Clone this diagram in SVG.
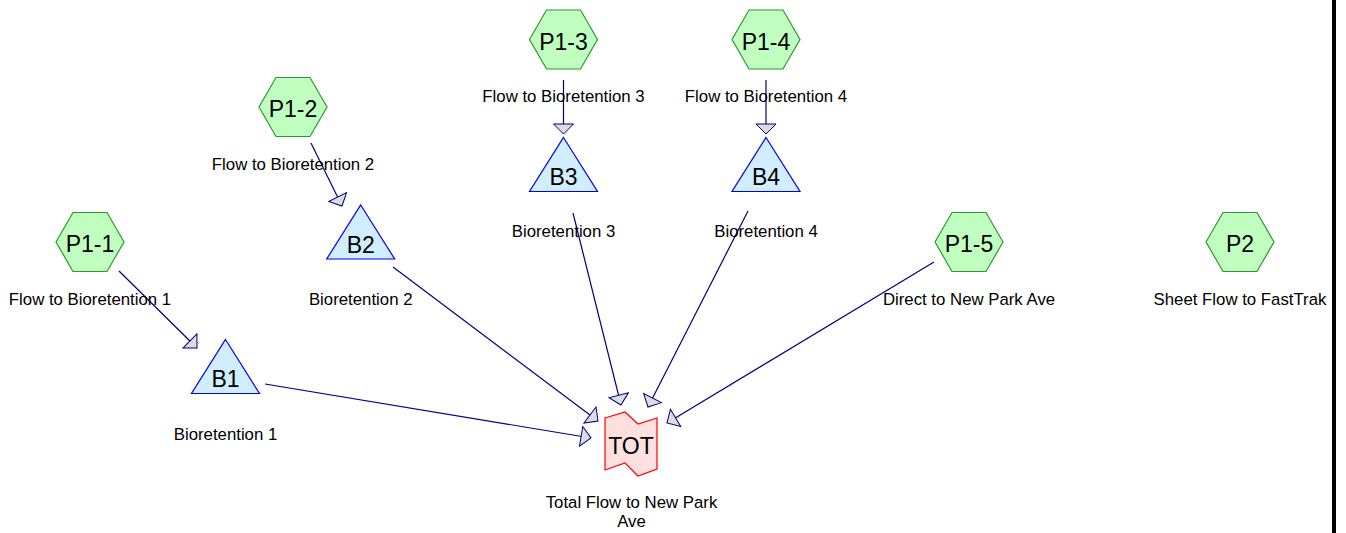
<svg xmlns="http://www.w3.org/2000/svg" xmlns:xlink="http://www.w3.org/1999/xlink" width="1346" height="533" viewBox="0 0 1346 533">
<style>
.hex{fill:#c0ffc0;stroke:#2a9a2a;stroke-width:1.2}
.tri{fill:#d0eeff;stroke:#0000ee;stroke-width:1.2}
.tot{fill:#ffe0e0;stroke:#ff0000;stroke-width:1.2}
.id{font-family:"Liberation Sans",Arial,sans-serif;font-size:23px;fill:#000;text-anchor:middle}
.lbl{font-family:"Liberation Sans",Arial,sans-serif;font-size:16.8px;fill:#000;text-anchor:middle}
.con line{stroke:#000080;stroke-width:1.2;fill:none;marker-end:url(#ah)}
</style>
<defs>
<marker id="ah" viewBox="-1 -11 12 22" markerWidth="12" markerHeight="22" refX="10" refY="0" orient="auto" markerUnits="userSpaceOnUse">
<path d="M0,-10 L10,0 L0,10 Z" fill="#dddddd" stroke="#000080" stroke-width="1"/>
</marker>
<polygon id="hexShape" points="-34,0 -17,-29.5 17,-29.5 34,0 17,29.5 -17,29.5"/>
<polygon id="triShape" points="0,-54 34,0 -34,0"/>
</defs>
<rect x="0" y="0" width="1346" height="533" fill="#ffffff"/>
<rect x="1332" y="0" width="4" height="533" fill="#000000"/>
<g id="connectors" class="con">
<line x1="119" y1="271" x2="197" y2="348"/>
<line x1="311" y1="143" x2="342" y2="206"/>
<line x1="563.5" y1="80" x2="563.5" y2="134"/>
<line x1="766" y1="80" x2="766" y2="134"/>
<line x1="265" y1="384" x2="591" y2="438"/>
<line x1="393" y1="267" x2="598" y2="421"/>
<line x1="573" y1="213" x2="621" y2="405"/>
<line x1="748" y1="211" x2="648" y2="407"/>
<line x1="934" y1="262" x2="667" y2="423"/>
</g>
<g id="P1-1">
<use xlink:href="#hexShape" href="#hexShape" class="hex" x="90" y="242"/>
<text class="id" x="90" y="252">P1-1</text>
<text class="lbl" x="90" y="305">Flow to Bioretention 1</text>
</g>
<g id="P1-2">
<use xlink:href="#hexShape" href="#hexShape" class="hex" x="293" y="107"/>
<text class="id" x="293" y="117">P1-2</text>
<text class="lbl" x="293" y="170">Flow to Bioretention 2</text>
</g>
<g id="P1-3">
<use xlink:href="#hexShape" href="#hexShape" class="hex" x="563.5" y="39.5"/>
<text class="id" x="563.5" y="49.5">P1-3</text>
<text class="lbl" x="563.5" y="102">Flow to Bioretention 3</text>
</g>
<g id="P1-4">
<use xlink:href="#hexShape" href="#hexShape" class="hex" x="766" y="39.5"/>
<text class="id" x="766" y="49.5">P1-4</text>
<text class="lbl" x="766" y="102">Flow to Bioretention 4</text>
</g>
<g id="P1-5">
<use xlink:href="#hexShape" href="#hexShape" class="hex" x="969" y="242"/>
<text class="id" x="969" y="252">P1-5</text>
<text class="lbl" x="969" y="305">Direct to New Park Ave</text>
</g>
<g id="P2">
<use xlink:href="#hexShape" href="#hexShape" class="hex" x="1240" y="242"/>
<text class="id" x="1240" y="252">P2</text>
<text class="lbl" x="1240" y="305">Sheet Flow to FastTrak</text>
</g>
<g id="B1">
<use xlink:href="#triShape" href="#triShape" class="tri" x="225.5" y="393.5"/>
<text class="id" x="225.5" y="387">B1</text>
<text class="lbl" x="225.5" y="440">Bioretention 1</text>
</g>
<g id="B2">
<use xlink:href="#triShape" href="#triShape" class="tri" x="360.7" y="259"/>
<text class="id" x="360.7" y="253">B2</text>
<text class="lbl" x="360.7" y="305">Bioretention 2</text>
</g>
<g id="B3">
<use xlink:href="#triShape" href="#triShape" class="tri" x="563.5" y="191.5"/>
<text class="id" x="563.5" y="185">B3</text>
<text class="lbl" x="563.5" y="237">Bioretention 3</text>
</g>
<g id="B4">
<use xlink:href="#triShape" href="#triShape" class="tri" x="766" y="191.5"/>
<text class="id" x="766" y="185">B4</text>
<text class="lbl" x="766" y="237">Bioretention 4</text>
</g>
<g id="TOT">
<polygon class="tot" points="605,418 625,412 638,424 657,418 657,469 638,476 625,463 605,470"/>
<text class="id" x="631" y="454">TOT</text>
<text class="lbl" x="631.5" y="508">Total Flow to New Park</text>
<text class="lbl" x="631.5" y="527">Ave</text>
</g>
</svg>
